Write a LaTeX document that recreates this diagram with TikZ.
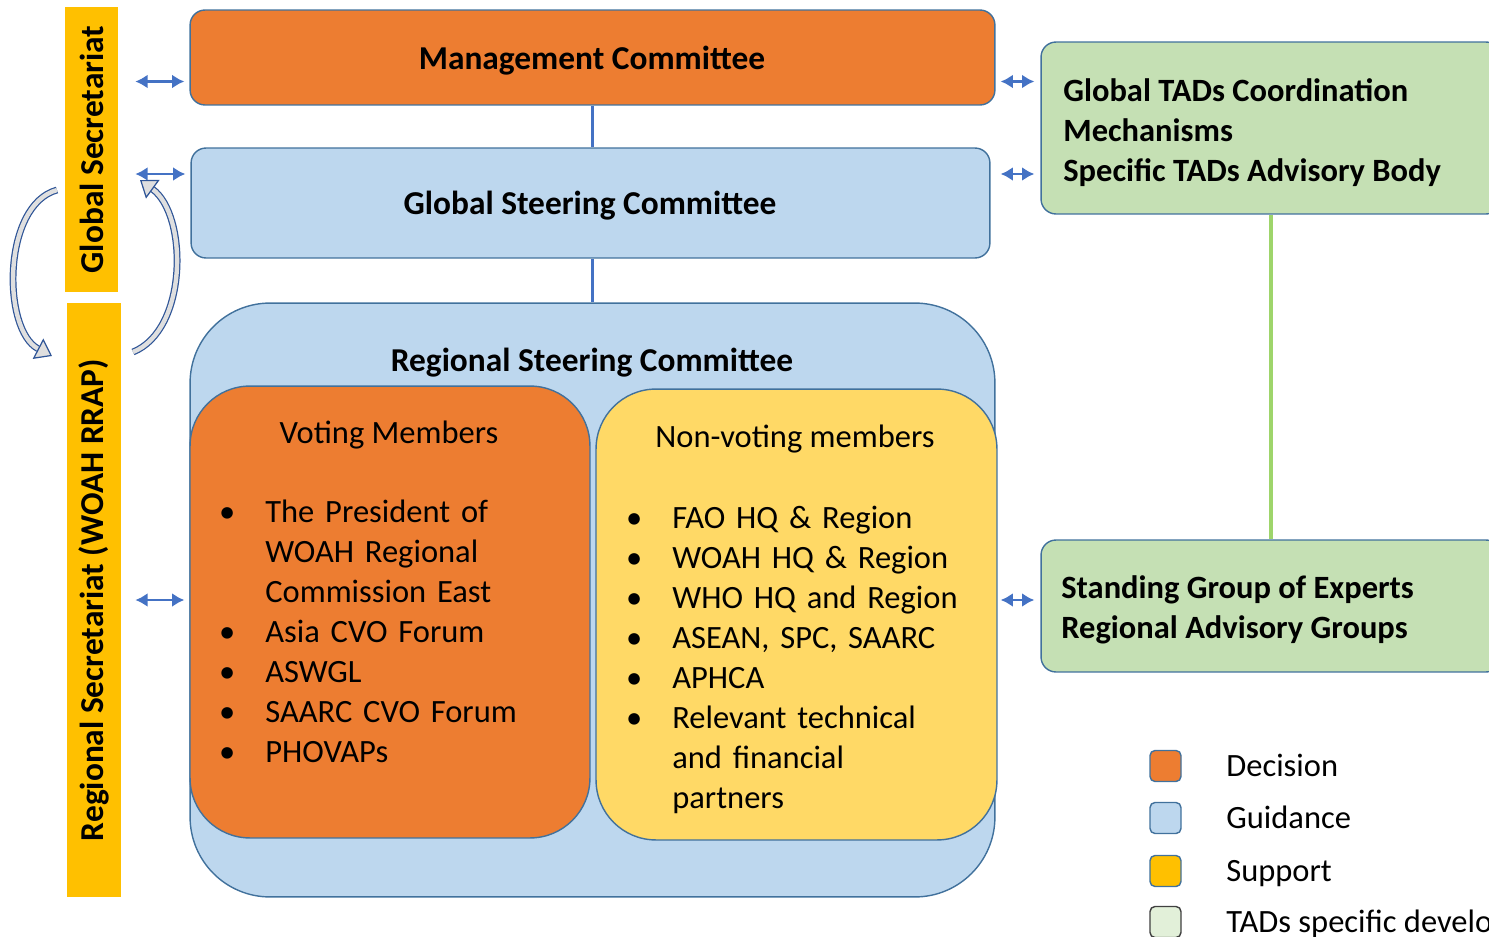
\documentclass[tikz,border=0pt]{standalone}
\usepackage{fontspec}
\setmainfont{Carlito}
\usepackage{enumitem}
\usetikzlibrary{arrows.meta}

\definecolor{decision}{HTML}{ED7D31}
\definecolor{guidance}{HTML}{BDD7EE}
\definecolor{support}{HTML}{FFC000}
\definecolor{nonvote}{HTML}{FFD966}
\definecolor{tadgreen}{HTML}{C5E0B4}
\definecolor{tadlight}{HTML}{E2F0D9}
\definecolor{edgeblue}{HTML}{41719C}
\definecolor{loopblue}{HTML}{2F5597}
\definecolor{arrowblue}{HTML}{4472C4}
\definecolor{linegreen}{HTML}{9ED56B}

\tikzset{
  box/.style={draw=edgeblue, line width=0.8pt, rounded corners=0.3cm, inner sep=0pt},
  secbar/.style={fill=support, rotate=90, inner sep=0pt, font=\fontsize{19}{23}\selectfont\bfseries},
  boldtext/.style={font=\fontsize{19}{23}\selectfont\bfseries, inner sep=0pt},
  tadtext/.style={font=\fontsize{18.5}{22.8}\selectfont\bfseries, inner sep=0pt, anchor=west, align=left},
  plaintext/.style={font=\fontsize{18.5}{22.8}\selectfont, inner sep=0pt},
  biarrow/.style={{Latex[length=7pt,width=8pt]}-{Latex[length=7pt,width=8pt]}, arrowblue, line width=1.5pt},
  link/.style={arrowblue, line width=1.6pt},
  loop/.style={draw=loopblue, double=gray!25, double distance=2.5pt, line width=0.7pt,
    -{Triangle[open, fill=gray!25, length=9pt, width=13pt]}},
  legendbox/.style={draw=edgeblue, line width=0.8pt, rounded corners=0.1cm, minimum size=0.62cm, inner sep=0pt}
}

\begin{document}
\begin{tikzpicture}[x=0.02cm, y=-0.02cm]
  \clip (0,0) rectangle (1489,937);

  % Secretariat bars
  \node[secbar, minimum width=5.7cm, minimum height=1.06cm] (gsec) at (91.5,149.5) {Global Secretariat};
  \node[secbar, minimum width=11.88cm, minimum height=1.08cm] (rsec) at (94,600) {Regional Secretariat (WOAH RRAP)};

  % Committees
  \node[box, fill=decision, minimum width=16.1cm, minimum height=1.9cm] (mc) at (592.5,57.5) {};
  \node[boldtext] (mctext) at (592,61) {Management Committee};
  \node[box, fill=guidance, minimum width=15.98cm, minimum height=2.2cm] (gsc) at (590.5,203) {};
  \node[boldtext] (gsctext) at (590,206) {Global Steering Committee};
  \node[box, fill=guidance, minimum width=16.1cm, minimum height=11.88cm, rounded corners=1.6cm] (rsc) at (592.5,600) {};
  \node[boldtext] (rsctitle) at (592,363) {Regional Steering Committee};

  % Voting members
  \node[box, fill=decision, minimum width=8cm, minimum height=9.04cm, rounded corners=1.2cm] (vm) at (390,612) {};
  \node[plaintext] (vmtitle) at (389,435) {Voting Members};
  \node[plaintext, anchor=north west, text width=7.4cm] (vmlist) at (215,482) {%
    \raggedright
    \begin{itemize}[label=\textbullet, leftmargin=1cm, labelsep=0.6cm, topsep=0pt, partopsep=0pt, itemsep=0pt, parsep=0pt]
      \item The President of\\WOAH Regional\\Commission East
      \item Asia CVO Forum
      \item ASWGL
      \item SAARC CVO Forum
      \item PHOVAPs
    \end{itemize}};

  % Non-voting members
  \node[box, fill=nonvote, minimum width=8.02cm, minimum height=9.02cm, rounded corners=1.2cm] (nvm) at (796.5,614.5) {};
  \node[plaintext] (nvmtitle) at (795,439) {Non-voting members};
  \node[plaintext, anchor=north west, text width=7.4cm] (nvmlist) at (621,488) {%
    \raggedright
    \begin{itemize}[label=\textbullet, leftmargin=1.02cm, labelsep=0.6cm, topsep=0pt, partopsep=0pt, itemsep=0pt, parsep=0pt]
      \item FAO HQ \& Region
      \item WOAH HQ \& Region
      \item WHO HQ and Region
      \item ASEAN, SPC, SAARC
      \item APHCA
      \item Relevant technical\\and financial\\partners
    \end{itemize}};

  % TADs bodies
  \node[box, fill=tadgreen, minimum width=9.2cm, minimum height=3.44cm] (gtad) at (1271,128) {};
  \node[tadtext] (gtadtext) at (1063,133) {Global TADs Coordination\\Mechanisms\\Specific TADs Advisory Body};
  \node[box, fill=tadgreen, minimum width=9.2cm, minimum height=2.64cm] (sgx) at (1271,606) {};
  \node[tadtext] (sgxtext) at (1061,610) {Standing Group of Experts\\Regional Advisory Groups};

  % Links
  \draw[link] (mc.south) -- (mc.south |- gsc.north);
  \draw[link] (gsc.south -| mc.south) -- (rsc.north);
  \draw[linegreen, line width=2pt] (gtad.south) -- (sgx.north);

  % Arrows
  \draw[biarrow, shorten <=0.34cm, shorten >=0.1cm] (gsec.south |- mc.west) ++(0,24) coordinate (a1) -- (a1 -| mc.west);
  \draw[biarrow, shorten <=0.34cm, shorten >=0.1cm] (gsec.south |- gsc.west) ++(0,-29) coordinate (a2) -- (a2 -| gsc.west);
  \draw[biarrow, shorten <=0.28cm, shorten >=0.1cm] (rsec.south) -- (rsec.south -| rsc.west);
  \draw[biarrow, shorten <=0.1cm, shorten >=0.12cm] (mc.east) ++(0,24) coordinate (b1) -- (b1 -| gtad.west);
  \draw[biarrow, shorten <=0.2cm, shorten >=0.12cm] (gsc.east) ++(0,-29) coordinate (b2) -- (b2 -| gtad.west);
  \draw[biarrow, shorten <=0.1cm, shorten >=0.12cm] (rsc.east) -- (rsc.east -| sgx.west);

  % Loop between secretariats
  \coordinate (loopa) at (57,190);
  \coordinate (loopb) at (52,356);
  \coordinate (loopc) at (133,352);
  \coordinate (loopd) at (140,180);
  \draw[loop] (loopa) .. controls (2,205) and (2,330) .. (loopb);
  \draw[loop] (loopc) .. controls (188,330) and (188,215) .. (loopd);

  % Legend
  \foreach \col/\edge/\txt/\yy [count=\i] in {decision/edgeblue/Decision/766, guidance/edgeblue/Guidance/818, support/edgeblue/Support/871, tadlight/darkgray/TADs specific development/922} {
    \node[legendbox, fill=\col, draw=\edge] (key\i) at (1165.5,\yy) {};
    \node[plaintext, anchor=base west] (keytext\i) at (1226,\yy+10) {\txt};
  }
\end{tikzpicture}
\end{document}
